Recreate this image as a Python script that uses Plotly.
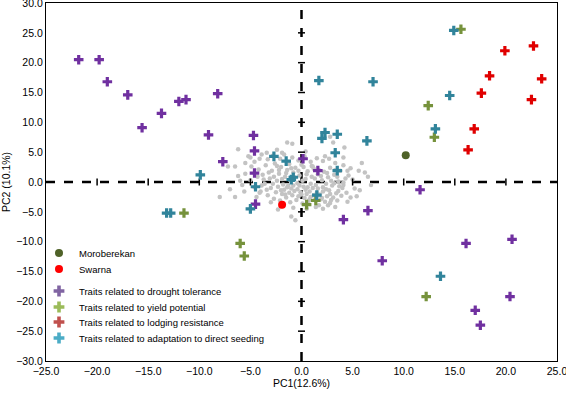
import plotly.graph_objects as go

# ---------------- data ----------------
drought_x = [-21.8, -19.8, -19.0, -17.0, -15.6, -13.7, -12.0, -11.3, -8.2, -9.1, -7.7, -4.7, -4.6, -4.6, -4.5,
             0.15, 1.6, 11.6, 6.5, 4.1, 16.1, 20.6, 7.9, 20.4, 17.0, 17.5]
drought_y = [20.5, 20.5, 16.8, 14.6, 9.1, 11.5, 13.5, 13.8, 14.8, 7.9, 3.4, 7.8, 5.2, 1.5, -3.7,
             3.9, 1.9, -1.3, -4.8, -6.3, -10.3, -9.6, -13.2, -19.2, -21.5, -24.0]

yield_x = [15.6, 12.4, 13.0, -11.5, -6.0, -5.6, 0.5, 1.4, 12.2]
yield_y = [25.6, 12.8, 7.5, -5.2, -10.3, -12.4, -3.8, -3.1, -19.2]

lodging_x = [19.9, 22.7, 18.4, 23.5, 17.6, 22.5, 16.9, 16.3]
lodging_y = [22.0, 22.8, 17.8, 17.3, 14.9, 13.8, 8.9, 5.4]

seeding_x = [14.9, 1.7, 7.0, 14.5, 13.1, 2.3, 2.0, 3.5, 6.4, 3.3, 3.5, -1.5, -0.8, -1.0, 1.5,
             -9.9, -4.5, -2.7, -13.2, -12.8, -5.0, 13.6]
seeding_y = [25.4, 17.0, 16.8, 14.5, 8.9, 8.3, 7.3, 8.0, 6.9, 4.9, 1.9, 3.5, 0.8, 0.4, -2.2,
             1.2, -0.8, 4.3, -5.2, -5.2, -4.5, -15.8]

moroberekan_x = [10.2]
moroberekan_y = [4.5]
swarna_x = [-1.9]
swarna_y = [-3.8]

bg_pts = [
    (-4.2, 2.1), (-3.8, 1.2), (-3.5, 2.8), (-3.1, 0.6), (-2.9, 1.9), (-2.6, 3.1), (-2.4, 0.2), (-2.2, 1.4),
    (-2.0, 2.5), (-1.8, -0.4), (-1.6, 0.9), (-1.4, 2.0), (-1.2, 3.0), (-1.0, -1.1), (-0.8, 1.6), (-0.6, 2.4),
    (-0.4, -0.2), (-0.2, 1.1), (0.0, 2.9), (0.2, -0.8), (0.4, 0.5), (0.6, 1.8), (0.8, -1.6), (1.0, 0.9),
    (1.2, 2.2), (1.4, -0.5), (1.6, 1.3), (1.8, -2.1), (2.0, 0.3), (2.2, 1.7), (2.4, -1.2), (2.6, 0.8),
    (2.8, 2.4), (3.0, -0.6), (3.2, 1.2), (3.4, -1.9), (3.6, 0.1), (3.8, 1.9), (4.0, -1.0), (4.3, 0.6),
    (-4.6, -0.9), (-4.0, -1.6), (-3.6, -0.3), (-3.3, -2.2), (-3.0, -1.0), (-2.7, -2.8), (-2.5, -1.7),
    (-2.3, -0.8), (-2.1, -3.1), (-1.9, -2.0), (-1.7, -1.3), (-1.5, -2.6), (-1.3, -0.6), (-1.1, -3.4),
    (-0.9, -2.2), (-0.7, -1.5), (-0.5, -3.0), (-0.3, -2.4), (-0.1, -1.7), (0.1, -3.6), (0.3, -2.7),
    (0.5, -2.0), (0.7, -3.2), (0.9, -2.5), (1.1, -1.0), (1.3, -3.0), (1.5, -1.8), (1.7, -3.9), (1.9, -2.9),
    (2.1, -1.6), (2.3, -3.3), (2.5, -2.4), (2.7, -1.4), (2.9, -3.0), (3.1, -2.6), (3.5, -3.1), (3.9, -2.3),
    (4.4, -1.8), (4.8, -2.6), (5.2, -1.1),
    (-5.2, 4.3), (-4.6, 3.4), (-3.9, 4.6), (-3.3, 3.8), (-2.8, 4.4), (-2.1, 3.9), (-1.7, 4.6), (-0.9, 4.1),
    (-0.3, 3.6), (0.3, 4.3), (0.9, 3.4), (1.5, 4.0), (2.1, 3.5), (2.7, 3.9), (3.3, 3.2), (4.1, 2.8),
    (4.8, 2.3), (5.0, 0.4), (-5.5, 1.4), (-5.0, 0.3), (-5.8, -0.5), (-4.9, 2.6),
    (-3.7, 0.4), (-3.2, 1.6), (-2.7, 0.9), (-2.2, 2.0), (-1.9, 0.5), (-1.5, 1.5), (-1.1, 0.3), (-0.7, 0.8),
    (-0.3, 1.9), (0.1, 0.2), (0.5, 1.3), (0.9, -0.3), (1.3, 0.6), (1.7, 2.0), (2.1, -0.9), (2.5, 1.5),
    (2.9, 0.2), (3.3, 2.0), (3.7, -0.7), (-4.3, 0.9), (-3.4, -1.3), (-2.8, -0.3), (-2.0, -1.4), (-1.6, -2.1),
    (-1.2, -1.8), (-0.8, -0.6), (-0.4, -1.2), (0.0, -2.1), (0.4, -1.3), (0.8, -2.9), (1.2, -2.2), (1.6, -1.1),
    (2.0, -2.7), (2.4, -0.3), (2.8, -2.0), (3.2, -0.2), (3.6, -1.5), (4.1, -0.1), (4.6, 1.1), (-0.2, -0.6),
    (0.6, -0.9), (-1.4, -0.9), (1.9, 1.0), (-2.4, 2.7), (0.2, 2.5), (1.0, 2.7), (-1.0, 2.3), (-3.9, -0.6),
    (-4.4, -2.5), (-3.0, -3.4), (-2.0, -4.1), (-0.8, -4.3), (0.5, -4.5), (1.4, -4.2), (2.6, -3.9), (3.3, -4.2),
    (-6.2, 5.5), (-6.5, 2.6), (-7.2, 2.6), (-6.2, 1.0), (-5.5, 3.2), (-5.0, 4.1), (-4.1, 3.9), (-3.4, 4.9),
    (-2.4, 5.4), (-1.9, 4.9), (-1.4, 6.6), (-0.9, 6.4), (0.4, 5.1), (2.8, 7.6), (3.1, 6.6), (4.2, 5.8),
    (2.3, 4.3), (4.1, 4.1), (4.5, 1.9), (5.6, 1.9), (6.2, 1.6), (6.5, 0.9), (5.7, -1.4), (4.1, -0.5),
    (3.5, 0.9), (1.1, 2.6), (-8.0, -2.5), (-6.5, -2.5), (-4.1, -1.8), (-2.3, -4.6), (-1.0, -5.8), (-0.6, -6.4),
    (2.1, -4.5), (4.5, -3.3), (2.8, -3.5), (-7.0, -1.2), (-6.0, 0.2), (5.4, -2.4), (6.8, -0.5), (5.9, 3.2),
    (-5.6, -1.6),
]
bg_x = [p[0] for p in bg_pts]
bg_y = [p[1] for p in bg_pts]

x_ticks = [-25, -20, -15, -10, -5, 0, 5, 10, 15, 20, 25]
y_ticks = [-30, -25, -20, -15, -10, -5, 0, 5, 10, 15, 20, 25, 30]

# ---------------- styles ----------------
FONT = "Liberation Sans, Arial, sans-serif"
plot_cols = {"drought": "#7030A0", "yield": "#76923C", "lodging": "#E00000", "seeding": "#31849B"}
legend_cols = {"drought": "#8064A2", "yield": "#9BBB59", "lodging": "#C0504D", "seeding": "#4BACC6"}
labels = {
    "drought": "Traits related to drought tolerance",
    "yield": "Traits related to yield potential",
    "lodging": "Traits related to lodging resistance",
    "seeding": "Traits related to adaptation to direct seeding",
}
series = {
    "drought": (drought_x, drought_y),
    "yield": (yield_x, yield_y),
    "lodging": (lodging_x, lodging_y),
    "seeding": (seeding_x, seeding_y),
}

fig = go.Figure()

fig.add_trace(go.Scatter(x=bg_x, y=bg_y, mode="markers", showlegend=False, hoverinfo="skip",
                         marker=dict(color="#C3C3C3", size=4.5, line=dict(width=0))))

# zero-axis tick marks
tx = [v for v in x_ticks if v not in (-25, 0, 25)]
ty = [v for v in y_ticks if v not in (-30, 0, 30)]
fig.add_trace(go.Scatter(x=tx, y=[0] * len(tx), mode="markers", showlegend=False, hoverinfo="skip",
                         marker=dict(symbol="line-ns", size=5, line=dict(color="black", width=1.5))))
fig.add_trace(go.Scatter(x=[0] * len(ty), y=ty, mode="markers", showlegend=False, hoverinfo="skip",
                         marker=dict(symbol="line-ew", size=5, line=dict(color="black", width=1.5))))

for k, (xs, ys) in series.items():
    fig.add_trace(go.Scatter(x=xs, y=ys, mode="markers", showlegend=False,
                             marker=dict(symbol="cross", size=8, color=plot_cols[k], line=dict(width=0))))

fig.add_trace(go.Scatter(x=moroberekan_x, y=moroberekan_y, mode="markers", name="Moroberekan",
                         legend="legend", marker=dict(symbol="circle", size=8, color="#4F6228")))
fig.add_trace(go.Scatter(x=swarna_x, y=swarna_y, mode="markers", name="Swarna",
                         legend="legend2", marker=dict(symbol="circle", size=8, color="#FF0000")))

leg_names = ["legend3", "legend4", "legend5", "legend6"]
for k, ln in zip(series, leg_names):
    fig.add_trace(go.Scatter(x=[None], y=[None], mode="markers", name=labels[k], legend=ln,
                             marker=dict(symbol="cross", size=9, color=legend_cols[k], line=dict(width=0))))

fig.add_shape(type="line", x0=0, x1=0, y0=-30, y1=30, xref="x", yref="y",
              line=dict(color="black", width=2.5, dash="dash"), layer="below")
fig.add_shape(type="line", x0=-25, x1=25, y0=0, y1=0, xref="x", yref="y",
              line=dict(color="black", width=2.5, dash="dash"), layer="below")

axis_common = dict(showgrid=False, zeroline=False, showline=True, linecolor="black", linewidth=1.2,
                   mirror=True, ticks="", tickformat=".1f", ticklabeloverflow="allow", automargin=False,
                   tickfont=dict(size=10.5, color="black", family=FONT))

# legend item centres (page pixels) -> paper coordinates of the plot area (top 3, bottom 361)
leg_centres_px = [253, 269, 291, 307, 322, 338]
leg_layout = {}
for i, py in enumerate(leg_centres_px):
    name = "legend" if i == 0 else f"legend{i + 1}"
    leg_layout[name] = dict(x=-0.0137, y=(361 - py) / 358, xanchor="left", yanchor="middle",
                            bgcolor="rgba(0,0,0,0)", borderwidth=0,
                            font=dict(size=9.5, color="black", family=FONT), itemsizing="trace")

fig.update_layout(
    width=566, height=394,
    margin=dict(l=46, r=9, t=3, b=33),
    paper_bgcolor="white", plot_bgcolor="white",
    font=dict(family=FONT, color="black"),
    xaxis=dict(range=[-25, 25], tickvals=x_ticks, title=dict(text="PC1(12.6%)", font=dict(size=10.5), standoff=2),
               **axis_common),
    yaxis=dict(range=[-30, 30], tickvals=y_ticks, title=dict(text="PC2 (10.1%)", font=dict(size=10.5), standoff=4),
               **axis_common),
    **leg_layout,
)

fig.write_html("out.html", config={"displayModeBar": False},
               post_script="document.body.style.margin='0px';")
